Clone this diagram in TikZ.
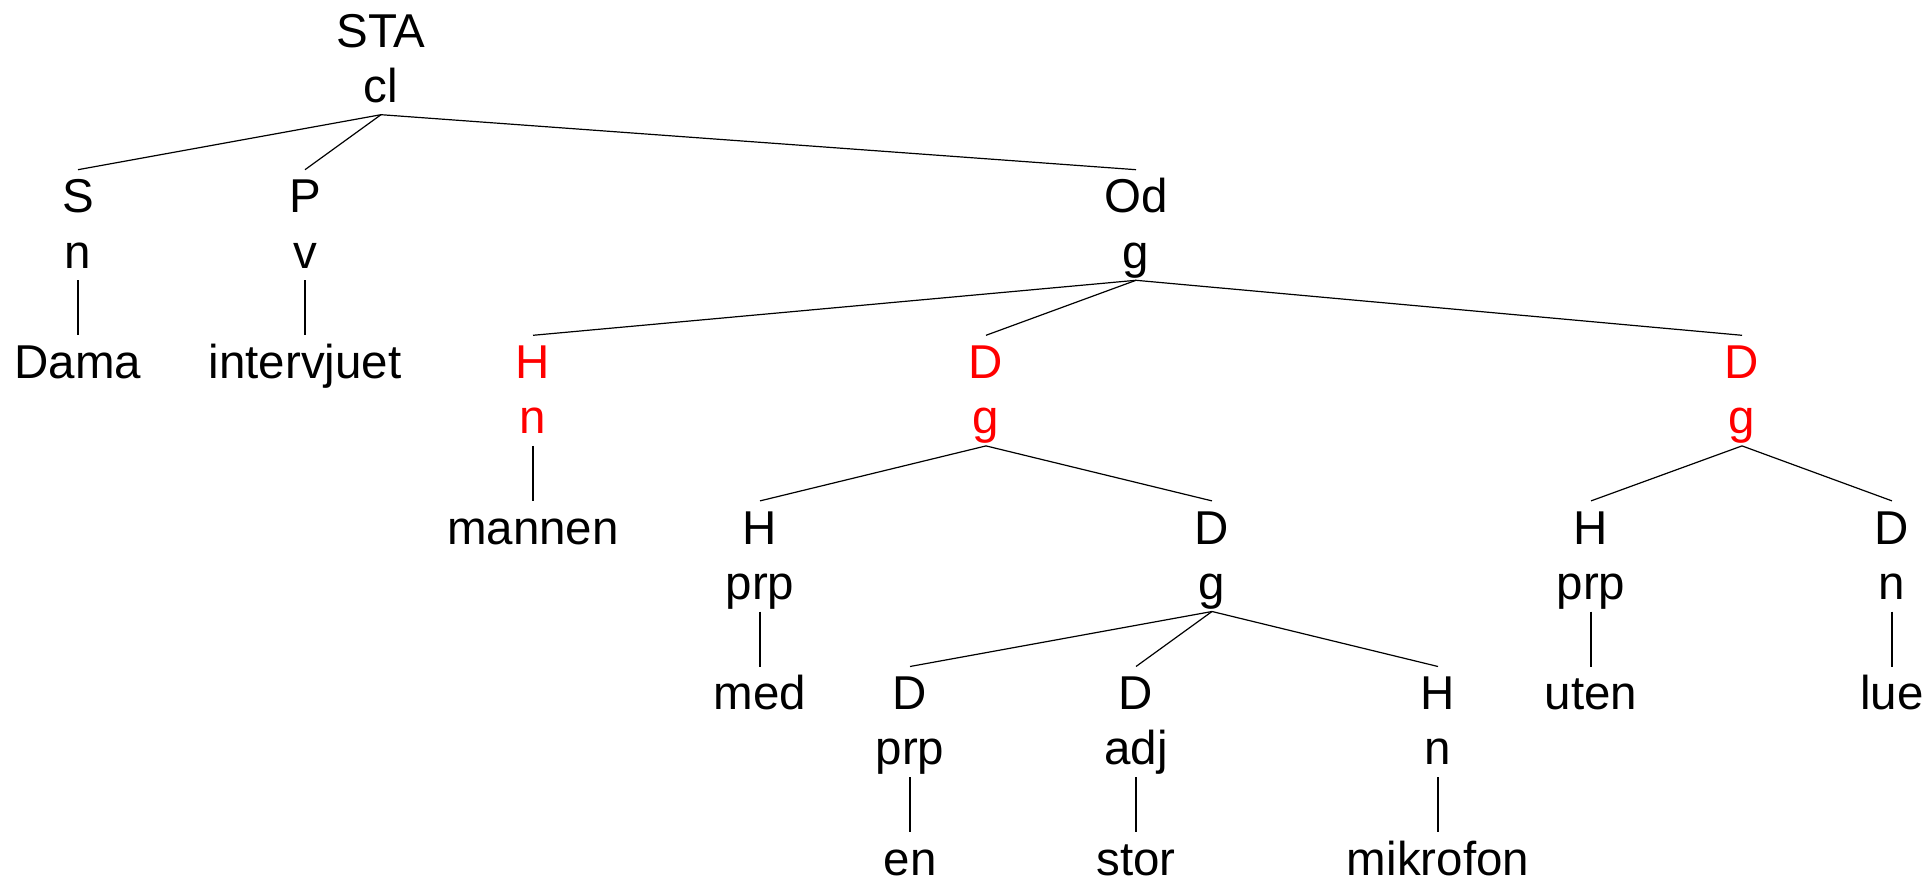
\documentclass[tikz,border=0pt]{standalone}
\usepackage{fontspec}
\setmainfont{Liberation Sans}
\begin{document}
\begin{tikzpicture}[x=1pt,y=-1pt,
  lbl/.style={inner sep=0pt, text height=43pt, text depth=12pt, anchor=base, font=\fontsize{47.5}{55}\selectfont},
  hl/.style={lbl, text=red},
  edge/.style={draw=black, line width=1.2pt}]
\useasboundingbox (0,0) rectangle (1931,882);
\def\Lz{47.3}\def\La{102.5}\def\Lb{212.9}\def\Lc{268.1}\def\Ld{378.5}\def\Le{433.7}
\def\Lf{544.1}\def\Lg{599.3}\def\Lh{709.7}\def\Li{764.9}\def\Lj{875.3}
% row 0
\node[lbl] (STA) at (381,\Lz) {STA};
\node[lbl] (cl) at (381,\La) {cl};
% row 1
\node[lbl] (S) at (78,\Lb) {S};
\node[lbl] (Sn) at (78,\Lc) {n};
\node[lbl] (P) at (305,\Lb) {P};
\node[lbl] (Pv) at (305,\Lc) {v};
\node[lbl] (Od) at (1136,\Lb) {Od};
\node[lbl] (Odg) at (1136,\Lc) {g};
% row 2
\node[lbl] (Dama) at (78,\Ld) {Dama};
\node[lbl] (interv) at (305,\Ld) {intervjuet};
\node[hl] (Hr) at (533,\Ld) {H};
\node[hl] (Hrn) at (533,\Le) {n};
\node[hl] (Dr) at (986,\Ld) {D};
\node[hl] (Drg) at (986,\Le) {g};
\node[hl] (Drr) at (1742,\Ld) {D};
\node[hl] (Drrg) at (1742,\Le) {g};
% row 3
\node[lbl] (mannen) at (533,\Lf) {mannen};
\node[lbl] (Hm) at (760,\Lf) {H};
\node[lbl] (Hmp) at (760,\Lg) {prp};
\node[lbl] (Dm) at (1212,\Lf) {D};
\node[lbl] (Dmg) at (1212,\Lg) {g};
\node[lbl] (Hu) at (1591,\Lf) {H};
\node[lbl] (Hup) at (1591,\Lg) {prp};
\node[lbl] (Dl) at (1892,\Lf) {D};
\node[lbl] (Dln) at (1892,\Lg) {n};
% row 4
\node[lbl] (med) at (760,\Lh) {med};
\node[lbl] (De) at (910,\Lh) {D};
\node[lbl] (Dep) at (910,\Li) {prp};
\node[lbl] (Ds) at (1136,\Lh) {D};
\node[lbl] (Dsa) at (1136,\Li) {adj};
\node[lbl] (Hk) at (1438,\Lh) {H};
\node[lbl] (Hkn) at (1438,\Li) {n};
\node[lbl] (uten) at (1591,\Lh) {uten};
\node[lbl] (lue) at (1892,\Lh) {lue};
% row 5
\node[lbl] (en) at (910,\Lj) {en};
\node[lbl] (stor) at (1136,\Lj) {stor};
\node[lbl] (mikrofon) at (1438,\Lj) {mikrofon};
% edges
\draw[edge] (cl.south) -- (S.north);
\draw[edge] (cl.south) -- (P.north);
\draw[edge] (cl.south) -- (Od.north);
\draw[edge] (Sn.south) -- (Dama.north);
\draw[edge] (Pv.south) -- (interv.north);
\draw[edge] (Odg.south) -- (Hr.north);
\draw[edge] (Odg.south) -- (Dr.north);
\draw[edge] (Odg.south) -- (Drr.north);
\draw[edge] (Hrn.south) -- (mannen.north);
\draw[edge] (Drg.south) -- (Hm.north);
\draw[edge] (Drg.south) -- (Dm.north);
\draw[edge] (Drrg.south) -- (Hu.north);
\draw[edge] (Drrg.south) -- (Dl.north);
\draw[edge] (Hmp.south) -- (med.north);
\draw[edge] (Dmg.south) -- (De.north);
\draw[edge] (Dmg.south) -- (Ds.north);
\draw[edge] (Dmg.south) -- (Hk.north);
\draw[edge] (Hup.south) -- (uten.north);
\draw[edge] (Dln.south) -- (lue.north);
\draw[edge] (Dep.south) -- (en.north);
\draw[edge] (Dsa.south) -- (stor.north);
\draw[edge] (Hkn.south) -- (mikrofon.north);
\end{tikzpicture}
\end{document}
